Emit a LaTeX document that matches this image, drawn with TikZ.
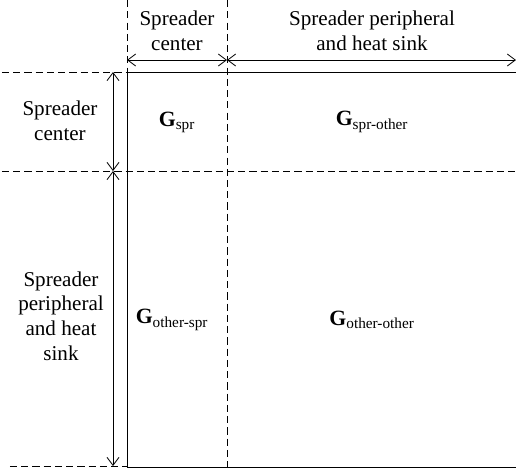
\documentclass[tikz,border=0pt]{standalone}
\usepackage{fontspec}
\setmainfont{Liberation Serif}
\usetikzlibrary{arrows.meta, positioning}

\begin{document}
\begin{tikzpicture}[x=0.025cm, y=-0.025cm,
        guide/.style={dash pattern=on 5pt off 3pt, line width=0.6pt},
        dim/.style={{Straight Barb[length=2mm, width=3mm]}-{Straight Barb[length=2mm, width=3mm]}, line width=0.6pt},
        frame/.style={line width=0.7pt},
        lbl/.style={align=center, font=\fontsize{15}{17.5}\selectfont, inner sep=0pt},
        blk/.style={font=\fontsize{15.5}{17}\selectfont, inner sep=0pt}
    ]
        \useasboundingbox (0,0) rectangle (516,470);

        % Corners of the matrix
        \coordinate (tl) at (127,72);
        \coordinate (bl) at (127,467);
        \coordinate (tr) at (520,72);
        \coordinate (br) at (520,467);

        % Dashed guides
        \coordinate (vtop) at (127,0);
        \coordinate (mtop) at (227,0);
        \coordinate (mbot) at (227,467);
        \coordinate (htop) at (2,72);
        \coordinate (hmid) at (2,171);
        \coordinate (hmidr) at (516,171);
        \coordinate (hbot) at (10,466);
        \coordinate (hbotr) at (127,466);
        \draw[guide] (vtop) -- (tl);
        \draw[guide] (mtop) -- (mbot);
        \draw[guide] (htop) -- (tl);
        \draw[guide] (hmid) -- (hmidr);
        \draw[guide] (hbot) -- (hbotr);

        % Matrix frame
        \draw[frame] (tr) -- (tl) -- (bl) -- (br);

        % Dimension arrows
        \coordinate (a1) at (127,60);
        \coordinate (a2) at (227,60);
        \coordinate (a3) at (516,60);
        \coordinate (b1) at (113,72);
        \coordinate (b2) at (113,171);
        \coordinate (b3) at (113,466);
        \draw[dim] (a1) -- (a2);
        \draw[dim] (a2) -- (a3);
        \draw[dim] (b1) -- (b2);
        \draw[dim] (b2) -- (b3);

        % Headings
        \node[lbl] (colc) at (177,31) {Spreader\\center};
        \node[lbl] (colp) at (372,31) {Spreader peripheral\\and heat sink};
        \node[lbl] (rowc) at (60,121) {Spreader\\center};
        \node[lbl] (rowp) at (61,316) {Spreader\\peripheral\\and heat\\sink};

        % Blocks
        \node[blk] (gss) at (177,122) {\textbf{G}\textsubscript{spr}};
        \node[blk] (gso) at (372,122) {\textbf{G}\textsubscript{spr-other}};
        \node[blk] (gos) at (172,320) {\textbf{G}\textsubscript{other-spr}};
        \node[blk] (goo) at (372,320) {\textbf{G}\textsubscript{other-other}};
    \end{tikzpicture}
\end{document}
